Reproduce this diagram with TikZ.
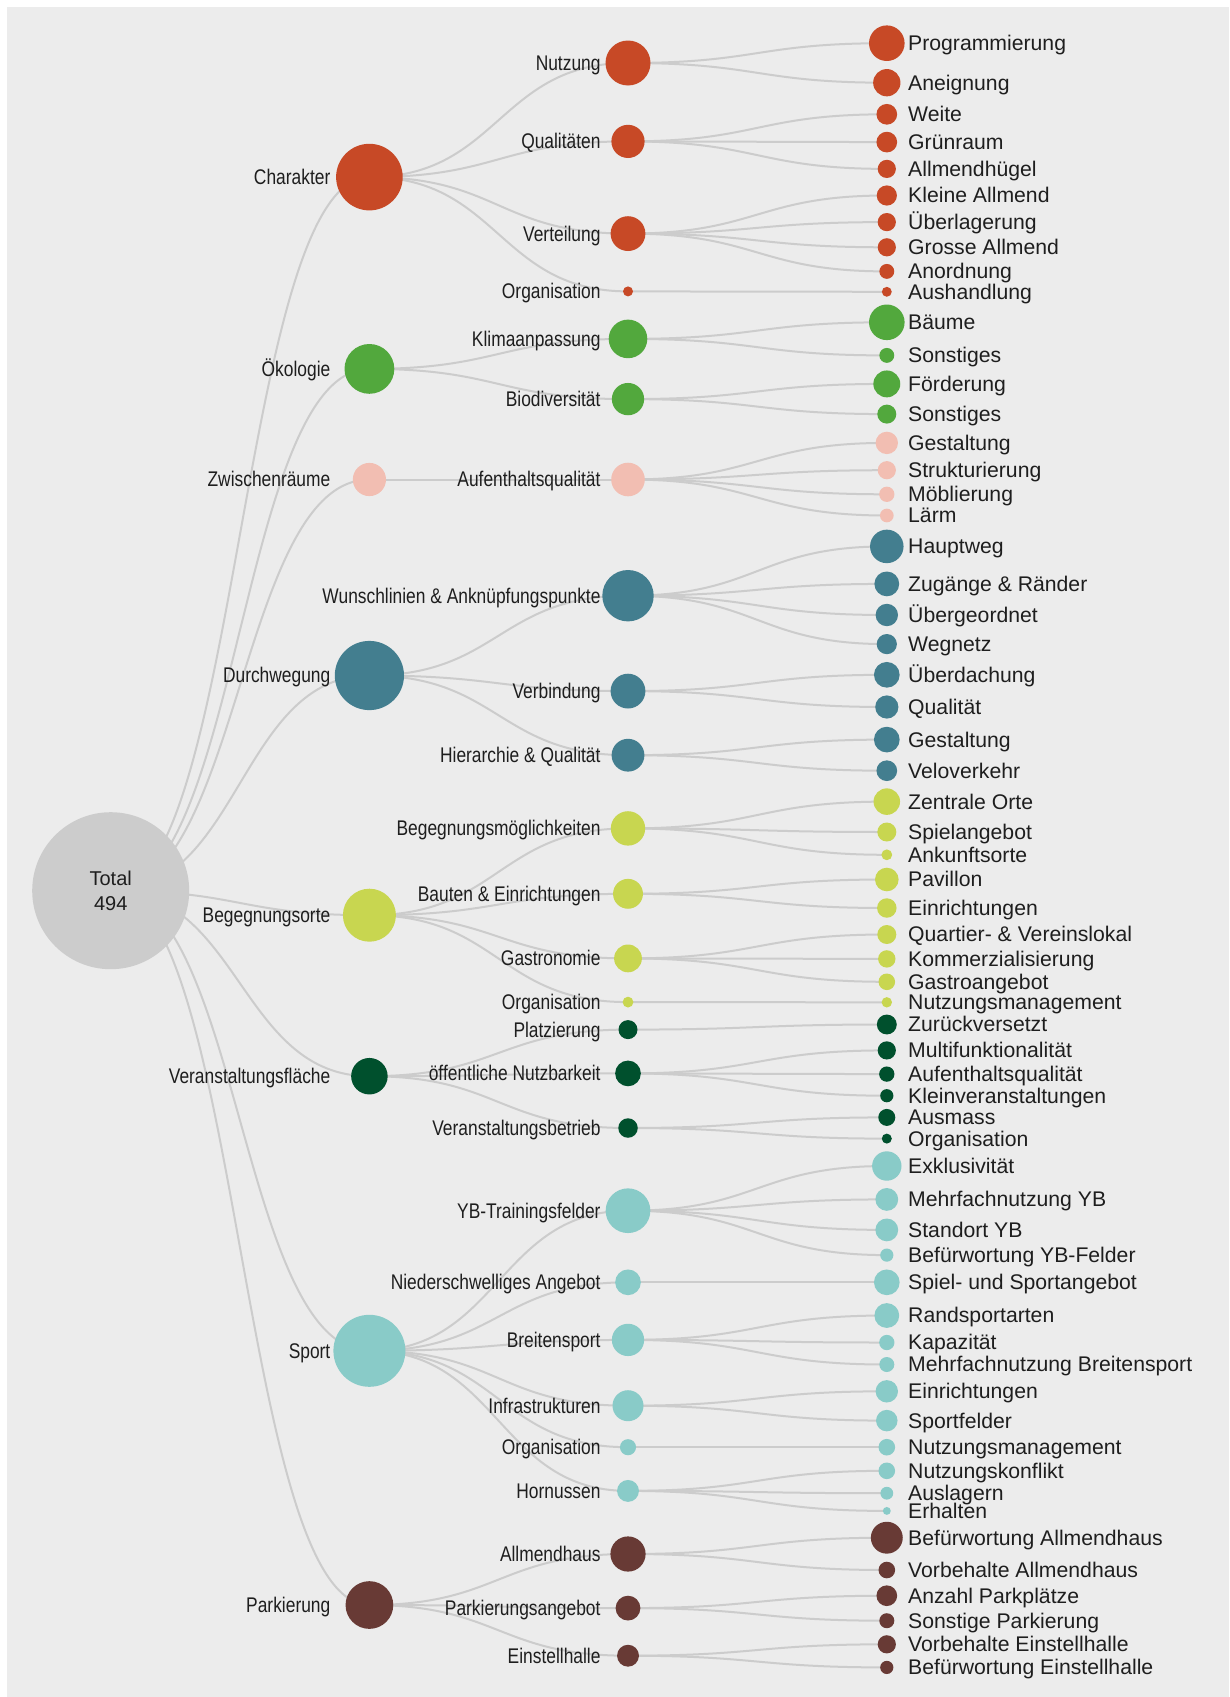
\documentclass[tikz,border=0pt]{standalone}
\usepackage{fontspec}
\setmainfont{Liberation Sans}
\newfontfamily\narrowf[FakeStretch=0.82]{Liberation Sans}
\usetikzlibrary{calc}
\pgfdeclarelayer{bgl}
\pgfdeclarelayer{links}
\pgfsetlayers{bgl,links,main}
\definecolor{bggray}{RGB}{236,236,236}
\definecolor{linkc}{RGB}{204,204,204}
\definecolor{rootc}{RGB}{204,204,204}
\definecolor{txt}{RGB}{30,30,30}
\definecolor{chr}{RGB}{199,73,38}
\definecolor{oko}{RGB}{82,168,61}
\definecolor{zwi}{RGB}{242,190,178}
\definecolor{dur}{RGB}{67,126,143}
\definecolor{beg}{RGB}{200,214,80}
\definecolor{ver}{RGB}{0,80,45}
\definecolor{spo}{RGB}{137,203,200}
\definecolor{par}{RGB}{104,58,53}
\tikzset{
  dot/.style={circle, inner sep=0pt, outer sep=0pt, minimum size=#1pt, draw=none},
  lab12/.style={anchor=base east, inner sep=0pt, text=txt, font=\narrowf\fontsize{21.2}{25}\selectfont},
  lab3/.style={anchor=base west, inner sep=0pt, text=txt, font=\fontsize{21.2}{25}\selectfont},
  link/.style={draw=linkc, line width=2pt},
  diag/.style={to path={let \p1=(\tikztostart), \p2=(\tikztotarget) in
     .. controls ({(\x1+\x2)/2},\y1) and ({(\x1+\x2)/2},\y2) .. (\tikztotarget)}}
}
% level 1: name, y, diameter, colour, text
\newcommand\mkA[5]{%
  \node[dot=#3, fill=#4] (#1) at (369.4,#2) {};
  \node[lab12] (#1t) at ([shift={(-38.9,7.4)}]#1.center) {#5};
  \begin{pgfonlayer}{links}\draw[link] (total.center) to[diag] (#1.center);\end{pgfonlayer}}
% level 2: name, parent, y, diameter, colour, text
\newcommand\mkB[6]{%
  \node[dot=#4, fill=#5] (#1) at (628,#3) {};
  \node[lab12] (#1t) at ([shift={(-27.3,7.4)}]#1.center) {#6};
  \begin{pgfonlayer}{links}\draw[link] (#2.center) to[diag] (#1.center);\end{pgfonlayer}}
% level 3: name, parent, y, diameter, colour, text
\newcommand\mkC[6]{%
  \node[dot=#4, fill=#5] (#1) at (886.8,#3) {};
  \node[lab3] (#1t) at ([shift={(21.2,7.4)}]#1.center) {#6};
  \begin{pgfonlayer}{links}\draw[link] (#2.center) to[diag] (#1.center);\end{pgfonlayer}}
\begin{document}
\begin{tikzpicture}[x=1pt,y=-1pt]
\useasboundingbox (0,0) rectangle (1229,1697);
\begin{pgfonlayer}{bgl}
  \fill[white] (0,0) rectangle (1229,1697);
  \fill[bggray] (7,7) rectangle (1229,1697);
\end{pgfonlayer}
\node[circle, fill=rootc, minimum size=157pt, inner sep=0pt, align=center,
      text=txt, font=\fontsize{20}{25}\selectfont] (total) at (110.7,890.7) {Total\\494};
% level 1
\mkA{c1}{177.1}{66.6}{chr}{Charakter}
\mkA{c2}{368.9}{49.8}{oko}{Ökologie}
\mkA{c3}{479.5}{33.2}{zwi}{Zwischenräume}
\mkA{c4}{675.5}{69.2}{dur}{Durchwegung}
\mkA{c5}{915.2}{53}{beg}{Begegnungsorte}
\mkA{c6}{1076.2}{36.5}{ver}{Veranstaltungsfläche}
\mkA{c7}{1350.8}{72}{spo}{Sport}
\mkA{c8}{1605}{47.7}{par}{Parkierung}
% level 2
\mkB{n1}{c1}{63}{45}{chr}{Nutzung}
\mkB{n2}{c1}{141.4}{33.2}{chr}{Qualitäten}
\mkB{n3}{c1}{233.6}{34.8}{chr}{Verteilung}
\mkB{n4}{c1}{291.4}{10}{chr}{Organisation}
\mkB{n5}{c2}{338.9}{38.6}{oko}{Klimaanpassung}
\mkB{n6}{c2}{399.1}{32.3}{oko}{Biodiversität}
\mkB{n7}{c3}{479.5}{33.6}{zwi}{Aufenthaltsqualität}
\mkB{n8}{c4}{595.7}{51.4}{dur}{Wunschlinien \& Anknüpfungspunkte}
\mkB{n9}{c4}{691.1}{34.8}{dur}{Verbindung}
\mkB{n10}{c4}{755.2}{32.8}{dur}{Hierarchie \& Qualität}
\mkB{n11}{c5}{828.4}{34.4}{beg}{Begegnungsmöglichkeiten}
\mkB{n12}{c5}{893.8}{29.9}{beg}{Bauten \& Einrichtungen}
\mkB{n13}{c5}{958.4}{27.8}{beg}{Gastronomie}
\mkB{n14}{c5}{1002.1}{10.8}{beg}{Organisation}
\mkB{n15}{c6}{1029.6}{19}{ver}{Platzierung}
\mkB{n16}{c6}{1073.4}{25.7}{ver}{öffentliche Nutzbarkeit}
\mkB{n17}{c6}{1128}{19.5}{ver}{Veranstaltungsbetrieb}
\mkB{n18}{c7}{1210.7}{44.7}{spo}{YB-Trainingsfelder}
\mkB{n19}{c7}{1282.3}{25.7}{spo}{Niederschwelliges Angebot}
\mkB{n20}{c7}{1339.9}{32.3}{spo}{Breitensport}
\mkB{n21}{c7}{1405.7}{31}{spo}{Infrastrukturen}
\mkB{n22}{c7}{1447.2}{16.1}{spo}{Organisation}
\mkB{n23}{c7}{1490.9}{21.9}{spo}{Hornussen}
\mkB{n24}{c8}{1554}{35.2}{par}{Allmendhaus}
\mkB{n25}{c8}{1608.1}{24.8}{par}{Parkierungsangebot}
\mkB{n26}{c8}{1655.7}{21.9}{par}{Einstellhalle}
% level 3
\mkC{l1}{n1}{43.2}{35.6}{chr}{Programmierung}
\mkC{l2}{n1}{82.7}{27.3}{chr}{Aneignung}
\mkC{l3}{n2}{114.3}{20.7}{chr}{Weite}
\mkC{l4}{n2}{142.1}{20.7}{chr}{Grünraum}
\mkC{l5}{n2}{168.9}{18.2}{chr}{Allmendhügel}
\mkC{l6}{n3}{195.5}{20.2}{chr}{Kleine Allmend}
\mkC{l7}{n3}{222.1}{18.2}{chr}{Überlagerung}
\mkC{l8}{n3}{247.3}{18.2}{chr}{Grosse Allmend}
\mkC{l9}{n3}{271.4}{14.9}{chr}{Anordnung}
\mkC{l10}{n4}{291.8}{9.9}{chr}{Aushandlung}
\mkC{l11}{n5}{322.3}{35.6}{oko}{Bäume}
\mkC{l12}{n5}{355.4}{14.9}{oko}{Sonstiges}
\mkC{l13}{n6}{383.9}{26.9}{oko}{Förderung}
\mkC{l14}{n6}{414.1}{19}{oko}{Sonstiges}
\mkC{l15}{n7}{442.9}{22.4}{zwi}{Gestaltung}
\mkC{l16}{n7}{470.2}{18.2}{zwi}{Strukturierung}
\mkC{l17}{n7}{494.3}{15.3}{zwi}{Möblierung}
\mkC{l18}{n7}{515.5}{13.7}{zwi}{Lärm}
\mkC{l19}{n8}{546.4}{33.5}{dur}{Hauptweg}
\mkC{l20}{n8}{583.9}{24.8}{dur}{Zugänge \& Ränder}
\mkC{l21}{n8}{615}{22.4}{dur}{Übergeordnet}
\mkC{l22}{n8}{644.1}{20.2}{dur}{Wegnetz}
\mkC{l23}{n9}{674.8}{25.7}{dur}{Überdachung}
\mkC{l24}{n9}{707}{23.2}{dur}{Qualität}
\mkC{l25}{n10}{739.6}{25.7}{dur}{Gestaltung}
\mkC{l26}{n10}{770.7}{20.7}{dur}{Veloverkehr}
\mkC{l27}{n11}{801.6}{26.5}{beg}{Zentrale Orte}
\mkC{l28}{n11}{832}{19}{beg}{Spielangebot}
\mkC{l29}{n11}{854.8}{10.8}{beg}{Ankunftsorte}
\mkC{l30}{n12}{879.5}{23.6}{beg}{Pavillon}
\mkC{l31}{n12}{908}{19.5}{beg}{Einrichtungen}
\mkC{l32}{n13}{934.5}{19}{beg}{Quartier- \& Vereinslokal}
\mkC{l33}{n13}{958.9}{17.4}{beg}{Kommerzialisierung}
\mkC{l34}{n13}{981.8}{16.6}{beg}{Gastroangebot}
\mkC{l35}{n14}{1002.3}{10.4}{beg}{Nutzungsmanagement}
\mkC{l36}{n15}{1024.5}{19.9}{ver}{Zurückversetzt}
\mkC{l37}{n16}{1050.4}{18.2}{ver}{Multifunktionalität}
\mkC{l38}{n16}{1074.1}{15.3}{ver}{Aufenthaltsqualität}
\mkC{l39}{n16}{1095.7}{13.2}{ver}{Kleinveranstaltungen}
\mkC{l40}{n17}{1117.4}{17}{ver}{Ausmass}
\mkC{l41}{n17}{1138.6}{10}{ver}{Organisation}
\mkC{l42}{n18}{1166}{29.4}{spo}{Exklusivität}
\mkC{l43}{n18}{1199.4}{22.8}{spo}{Mehrfachnutzung YB}
\mkC{l44}{n18}{1229.9}{22.8}{spo}{Standort YB}
\mkC{l45}{n18}{1255.1}{13.2}{spo}{Befürwortung YB-Felder}
\mkC{l46}{n19}{1282.3}{25.7}{spo}{Spiel- und Sportangebot}
\mkC{l47}{n20}{1315.5}{24.8}{spo}{Randsportarten}
\mkC{l48}{n20}{1342.5}{15.3}{spo}{Kapazität}
\mkC{l49}{n20}{1364.5}{15}{spo}{Mehrfachnutzung Breitensport}
\mkC{l50}{n21}{1391.3}{22.4}{spo}{Einrichtungen}
\mkC{l51}{n21}{1420.6}{21.5}{spo}{Sportfelder}
\mkC{l52}{n22}{1447.2}{16.6}{spo}{Nutzungsmanagement}
\mkC{l53}{n23}{1470.8}{16.6}{spo}{Nutzungskonflikt}
\mkC{l54}{n23}{1493.2}{12.8}{spo}{Auslagern}
\mkC{l55}{n23}{1510.9}{7.9}{spo}{Erhalten}
\mkC{l56}{n24}{1537.7}{31.9}{par}{Befürwortung Allmendhaus}
\mkC{l57}{n24}{1570}{16.6}{par}{Vorbehalte Allmendhaus}
\mkC{l58}{n25}{1595.7}{20.7}{par}{Anzahl Parkplätze}
\mkC{l59}{n25}{1620.7}{15}{par}{Sonstige Parkierung}
\mkC{l60}{n26}{1644.3}{18.2}{par}{Vorbehalte Einstellhalle}
\mkC{l61}{n26}{1667.4}{13.2}{par}{Befürwortung Einstellhalle}
\end{tikzpicture}
\end{document}
